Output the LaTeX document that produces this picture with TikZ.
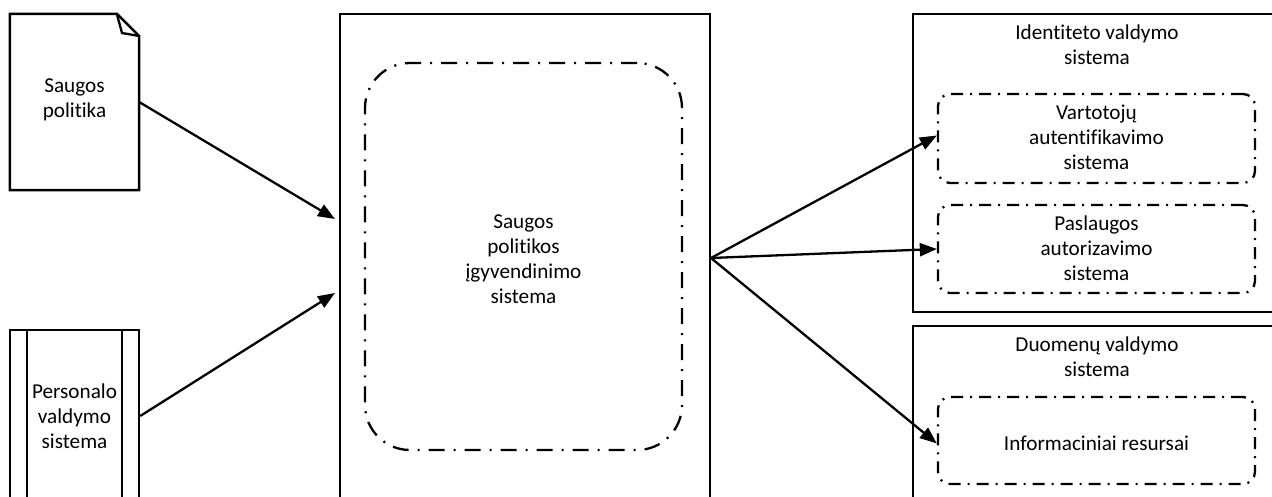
\documentclass[tikz,border=0pt]{standalone}
\usepackage{fontspec}
\setmainfont{Carlito}[Ligatures={NoCommon}]
\usetikzlibrary{arrows.meta}

\tikzset{
  frame/.style={draw, line width=2.5pt, rectangle, inner sep=0pt},
  bigdashdot/.style={draw, line width=2.3pt, rounded corners=45pt,
    dash pattern=on 16pt off 9pt on 2pt off 9pt, rectangle, inner sep=0pt},
  smalldashdot/.style={draw, line width=2.3pt, rounded corners=12pt,
    dash pattern=on 12pt off 7pt on 2pt off 7pt, rectangle, inner sep=0pt},
  label/.style={align=center, inner sep=0pt,
    font=\fontsize{21.2}{25}\selectfont},
  flow/.style={line width=2.3pt, -{Triangle[length=17pt,width=13pt]}}
}

\begin{document}
\begin{tikzpicture}[x=1pt,y=-1pt]
\useasboundingbox (0,0) rectangle (1272,497);
\clip (0,0) rectangle (1272,497);

% policy document with folded corner
\node[inner sep=0pt, minimum width=129pt, minimum height=176pt] (doc) at (74.5,102) {};
\draw[line width=2.5pt, line join=miter]
  (doc.north west) -- ++(107,0) coordinate (foldA) -- (doc.north east |- 0,36) coordinate (foldB)
  -- (doc.south east) -- (doc.south west) -- cycle;
\draw[line width=2.3pt, line join=miter] (foldA) -- (122,33) coordinate (foldC) -- (foldB);
\node[label] (doctext) at (74.5,99.5) {Saugos\\politika};

% personnel system (predefined process)
\node[frame, minimum width=129pt, minimum height=210pt] (pers) at (74.5,435) {};
\draw[line width=2.3pt] (27,330) -- (27,540);
\draw[line width=2.3pt] (122,330) -- (122,540);
\node[label] (perstext) at (74.5,416) {Personalo\\valdymo\\sistema};

% policy enforcement system
\node[frame, minimum width=370pt, minimum height=526pt] (cbox) at (525,277) {};
\node[bigdashdot, minimum width=317pt, minimum height=387pt] (inner) at (523.5,256.5) {};
\node[label] (ctext) at (523.5,259.5) {Saugos\\politikos\\įgyvendinimo\\sistema};

% identity management system
\node[frame, minimum width=377pt, minimum height=298pt] (ident) at (1101.5,163) {};
\node[label] (identtext) at (1097,45) {Identiteto valdymo\\sistema};
\node[smalldashdot, minimum width=317pt, minimum height=89pt] (vart) at (1096.5,138.5) {};
\node[label] (varttext) at (1096.5,137.5) {Vartotojų\\autentifikavimo\\sistema};
\node[smalldashdot, minimum width=317pt, minimum height=88pt] (pasl) at (1096.5,249) {};
\node[label] (pasltext) at (1096.5,248) {Paslaugos\\autorizavimo\\sistema};

% data management system
\node[frame, minimum width=377pt, minimum height=214pt] (data) at (1101.5,433) {};
\node[label] (datatext) at (1097,356.5) {Duomenų valdymo\\sistema};
\node[smalldashdot, minimum width=317pt, minimum height=87pt] (info) at (1096.5,440.5) {};
\node[label] (infotext) at (1096.5,443) {Informaciniai resursai};

% connectors
\coordinate (inA) at (335,219);
\coordinate (inB) at (335,293);
\coordinate (out) at (711,258);
\draw[flow] (doc.east) -- (inA);
\draw[flow] (pers.east |- perstext) -- (inB);
\draw[flow] (out) -- ([yshift=3pt]vart.west);
\draw[flow] (out) -- (pasl.west);
\draw[flow] (out) -- ([yshift=-3pt]info.west);
\end{tikzpicture}
\end{document}
